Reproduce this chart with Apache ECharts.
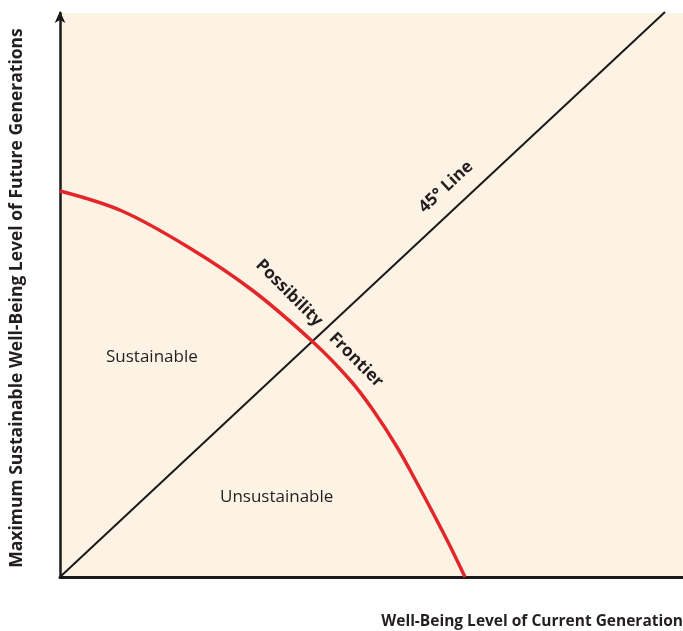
<!DOCTYPE html>
<html>
<head>
<meta charset="utf-8">
<script src="https://cdn.jsdelivr.net/npm/echarts@6/dist/echarts.min.js"></script>
<style>
  html, body { margin: 0; padding: 0; background: #fff; }
  #main { width: 683px; height: 631px; }
</style>
</head>
<body>
<div id="main"></div>
<script>
// 45 degree line, current vs future well-being (arbitrary units)
var lineX = [0, 605]
var lineY = [0, 565]
// possibility frontier
var frontierX = [0, 62, 128, 192, 253, 290, 313, 337, 357, 373, 390, 405]
var frontierY = [386, 366, 330, 287, 235, 197, 167, 130, 94, 64, 31, 0]

var xTitle = 'Well-Being Level of Current Generation'
var yTitle = 'Maximum Sustainable Well-Being Level of Future Generations'

var chart = echarts.init(document.getElementById('main'))

function pairs (xs, ys) {
  return xs.map(function (x, i) { return [x, ys[i]] })
}

var deg = Math.PI / 180
var txt = '#231f20'

chart.setOption({
  animation: false,
  grid: {
    left: 60, right: 0, top: 13, bottom: 54,
    show: true,
    backgroundColor: '#fdf3e5',
    borderWidth: 0
  },
  xAxis: {
    type: 'value', min: 0, max: 623,
    axisLine: { lineStyle: { color: '#1a1a1a', width: 3 } },
    axisTick: { show: false },
    axisLabel: { show: false },
    splitLine: { show: false }
  },
  yAxis: {
    type: 'value', min: 0, max: 564,
    axisLine: {
      show: true,
      symbol: ['none', 'arrow'],
      symbolSize: [8, 12],
      symbolOffset: [0, 2],
      lineStyle: { color: '#1a1a1a', width: 2.5 }
    },
    axisTick: { show: false },
    axisLabel: { show: false },
    splitLine: { show: false }
  },
  series: [
    {
      type: 'line',
      data: pairs(lineX, lineY),
      symbol: 'none',
      clip: false,
      lineStyle: { color: '#1a1a1a', width: 2 }
    },
    {
      type: 'line',
      data: pairs(frontierX, frontierY),
      symbol: 'none',
      smooth: 0.35,
      lineStyle: { color: '#e2262a', width: 3.5 }
    }
  ],
  graphic: [
    { type: 'text', x: 106, y: 357, style: { text: 'Sustainable', fill: txt, font: '17px "Open Sans"', align: 'left', verticalAlign: 'middle' } },
    { type: 'text', x: 220, y: 497, style: { text: 'Unsustainable', fill: txt, font: '17px "Open Sans"', align: 'left', verticalAlign: 'middle' } },
    { type: 'text', x: 446, y: 187, rotation: 43 * deg, style: { text: '45° Line', fill: txt, font: 'bold 17px "Open Sans"', align: 'center', verticalAlign: 'middle' } },
    { type: 'text', x: 289, y: 293, rotation: -45 * deg, style: { text: 'Possibility', fill: txt, font: 'bold 17px "Open Sans"', align: 'center', verticalAlign: 'middle' } },
    { type: 'text', x: 356, y: 360, rotation: -45 * deg, style: { text: 'Frontier', fill: txt, font: 'bold 17px "Open Sans"', align: 'center', verticalAlign: 'middle' } },
    { type: 'text', x: 683, y: 622, style: { text: xTitle, fill: txt, font: 'bold 15.5px "Open Sans"', align: 'right', verticalAlign: 'middle' } },
    { type: 'text', x: 17, y: 298, rotation: 90 * deg, style: { text: yTitle, fill: txt, font: 'bold 17.5px "Open Sans"', align: 'center', verticalAlign: 'middle' } }
  ]
})
</script>
</body>
</html>
